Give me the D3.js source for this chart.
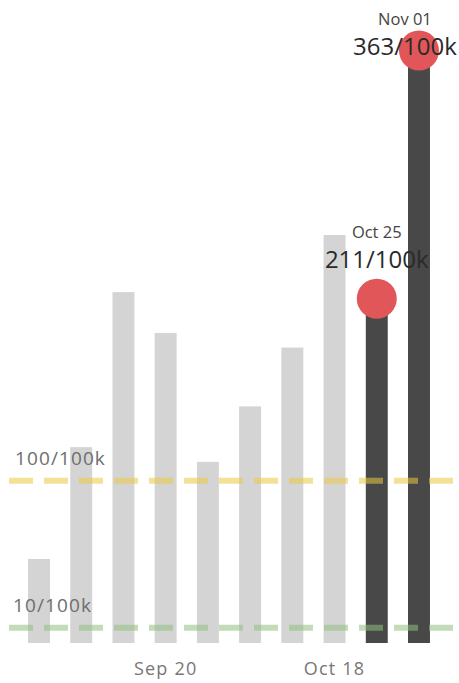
<!DOCTYPE html>
<html>
<head>
<meta charset="utf-8">
<script src="https://cdn.jsdelivr.net/npm/d3@7"></script>
<style>
  html, body { margin: 0; padding: 0; background: #fff; }
  svg { display: block; }
  text { font-family: "Open Sans", "Noto Sans", sans-serif; }
</style>
</head>
<body>
<div id="chart"></div>
<script>
// ---- data ----
const weeks = ["Aug 30", "Sep 06", "Sep 13", "Sep 20", "Sep 27", "Oct 04", "Oct 11", "Oct 18", "Oct 25", "Nov 01"];
const rates = [51.5, 120, 215, 190, 111, 145, 181, 250, 211, 363];
const highlighted = ["Oct 25", "Nov 01"];
const tickLabels = ["Sep 20", "Oct 18"];
const refValues = [100, 10];
const refLabels = ["100/100k", "10/100k"];

// ---- layout ----
const W = 459, H = 683;
const svg = d3.select("#chart").append("svg").attr("width", W).attr("height", H);

const x = d3.scaleBand().domain(weeks).range([17.9, 440.1]).paddingInner(0.48).paddingOuter(0.24);
const y = d3.scaleLinear().domain([0, 400]).range([643, 643 - 1.632 * 400]);

const data = weeks.map((w, i) => ({ week: w, rate: rates[i], hi: highlighted.includes(w) }));

// bars
svg.append("g").selectAll("rect").data(data).join("rect")
  .attr("x", d => x(d.week))
  .attr("width", x.bandwidth())
  .attr("y", d => y(d.rate))
  .attr("height", d => y(0) - y(d.rate))
  .attr("fill", d => d.hi ? "#484848" : "#d4d4d4");

// reference lines
const refColors = ["#e8c840", "#8fbf7f"];
const refG = svg.append("g");
refValues.forEach((v, i) => {
  refG.append("line")
    .attr("x1", 9).attr("x2", 453)
    .attr("y1", y(v) + 1).attr("y2", y(v) + 1)
    .attr("stroke", refColors[i])
    .attr("stroke-opacity", 0.55)
    .attr("stroke-width", 6)
    .attr("stroke-dasharray", "24 11");
  refG.append("text")
    .attr("x", i === 0 ? 15 : 13)
    .attr("y", y(v) + 1 - 16)
    .attr("font-size", 19)
    .attr("letter-spacing", 1.1)
    .attr("fill", "#6e6e6e")
    .text(refLabels[i]);
});

// x axis tick labels
const xAxis = d3.axisBottom(x).tickValues(tickLabels).tickSize(0).tickPadding(0);
const ax = svg.append("g").attr("transform", `translate(0, ${y(0)})`).call(xAxis);
ax.select(".domain").remove();
ax.selectAll("text")
  .attr("dy", null)
  .attr("y", 32)
  .attr("font-family", "Open Sans, sans-serif")
  .attr("font-size", 18)
  .attr("letter-spacing", 1.2)
  .attr("fill", "#777");

// highlight circles
const hiData = data.filter(d => d.hi);
svg.append("g").selectAll("circle").data(hiData).join("circle")
  .attr("cx", d => x(d.week) + x.bandwidth() / 2)
  .attr("cy", d => y(d.rate))
  .attr("r", 20)
  .attr("fill", "#e15759");

// annotations
const annG = svg.append("g");
hiData.forEach(d => {
  const xc = x(d.week) + x.bandwidth() / 2;
  const baseY = Math.max(y(d.rate) - 30.5, 55);
  const big = annG.append("text")
    .attr("text-anchor", "middle")
    .attr("y", baseY)
    .attr("font-size", 24)
    .attr("fill", "#2a2a2a")
    .text(Math.round(d.rate) + "/100k");
  const bw = big.node().getBBox().width;
  const cx = Math.min(xc, W - 2 - bw / 2);
  big.attr("x", cx);
  annG.append("text")
    .attr("text-anchor", "middle")
    .attr("x", cx)
    .attr("y", baseY - 30.5)
    .attr("font-size", 16.5)
    .attr("fill", "#444")
    .text(d.week);
});
</script>
</body>
</html>
